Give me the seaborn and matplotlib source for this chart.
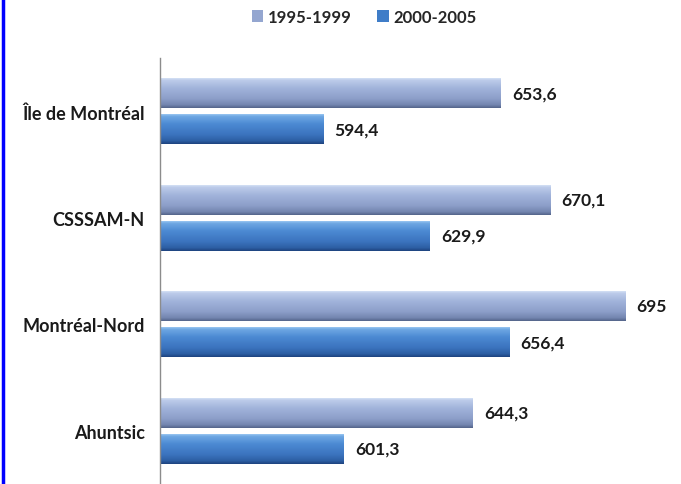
import numpy as np
import pandas as pd
import seaborn as sns
import matplotlib.pyplot as plt
from matplotlib.colors import LinearSegmentedColormap
from matplotlib.lines import Line2D

categories = ['Île de Montréal', 'CSSSAM-N', 'Montréal-Nord', 'Ahuntsic']
periods = ['1995-1999', '2000-2005']
values_1995_1999 = [653.6, 670.1, 695, 644.3]
values_2000_2005 = [594.4, 629.9, 656.4, 601.3]

df = pd.DataFrame({
    'region': categories * 2,
    'periode': [periods[0]] * 4 + [periods[1]] * 4,
    'taux': values_1995_1999 + values_2000_2005,
})

sns.set_style('white')
plt.rcParams['font.family'] = ['Lato', 'DejaVu Sans']

# top -> bottom gradients, like the Excel bevel bars
grad_light = LinearSegmentedColormap.from_list('light', [
    (0.0, '#dde8f8'), (0.1, '#bccbea'), (0.35, '#a2b4db'),
    (0.7, '#8c9ec9'), (0.9, '#7486b0'), (1.0, '#55658b')])
grad_dark = LinearSegmentedColormap.from_list('dark', [
    (0.0, '#aad2f6'), (0.1, '#6ea7e3'), (0.35, '#4c8ad3'),
    (0.7, '#3b73be'), (0.9, '#2d5fa4'), (1.0, '#1e4480')])
mid_colors = {periods[0]: '#94a6d0', periods[1]: '#3f7dc8'}

fig = plt.figure(figsize=(6.81, 4.85), dpi=100)
ax = fig.add_axes([160 / 681, 0.0, 510 / 681, 426 / 485])

sns.barplot(
    data=df,
    x='taux',
    y='region',
    hue='periode',
    hue_order=periods,
    order=categories,
    palette=mid_colors,
    orient='h',
    width=0.68,
    gap=0.17,
    ax=ax,
    legend=False,
)

ax.set_xlim(540, 710)
ax.set_ylim(3.5, -0.5)

grad = np.linspace(0, 1, 64).reshape(-1, 1)
for cont, cmap in zip(ax.containers, [grad_light, grad_dark]):
    for bar in cont:
        bar.set_edgecolor('none')
        x0, y0 = bar.get_x(), bar.get_y()
        w, h = bar.get_width(), bar.get_height()
        im = ax.imshow(grad, cmap=cmap, aspect='auto', origin='upper',
                       extent=[ax.get_xlim()[0], x0 + w, y0 + h, y0],
                       zorder=bar.get_zorder() + 0.1)
        im.set_clip_path(bar)
    labels = [f"{v:g}".replace('.', ',') for v in cont.datavalues]
    ax.bar_label(cont, labels=labels, padding=8, fontsize=12.5,
                 fontweight='bold', color='#1a1a1a')

ax.set_xlim(540, 710)
ax.set_ylim(3.5, -0.5)

ax.set_xlabel('')
ax.set_ylabel('')
ax.set_xticks([])
ax.tick_params(axis='y', length=0, pad=11, labelsize=13)
for lab in ax.get_yticklabels():
    lab.set_fontweight('bold')
    lab.set_color('#1a1a1a')
for s in ['top', 'right', 'bottom']:
    ax.spines[s].set_visible(False)
ax.spines['left'].set_color('#8c8c8c')
ax.spines['left'].set_linewidth(1.0)

handles = [plt.Rectangle((0, 0), 1, 1, facecolor=mid_colors[p], edgecolor='none')
           for p in periods]
fig.legend(handles, periods, loc='upper center', bbox_to_anchor=(0.535, 1.01),
           ncol=2, frameon=False, handlelength=0.7, handleheight=0.7,
           handletextpad=0.3, columnspacing=1.5,
           prop={'size': 12, 'weight': 'bold'})

# blue frame line on the left edge
fig.add_artist(Line2D([3 / 681, 3 / 681], [0, 1], color='#0000ff', lw=2.5,
                      transform=fig.transFigure))

fig.savefig('out.png', dpi=100)
